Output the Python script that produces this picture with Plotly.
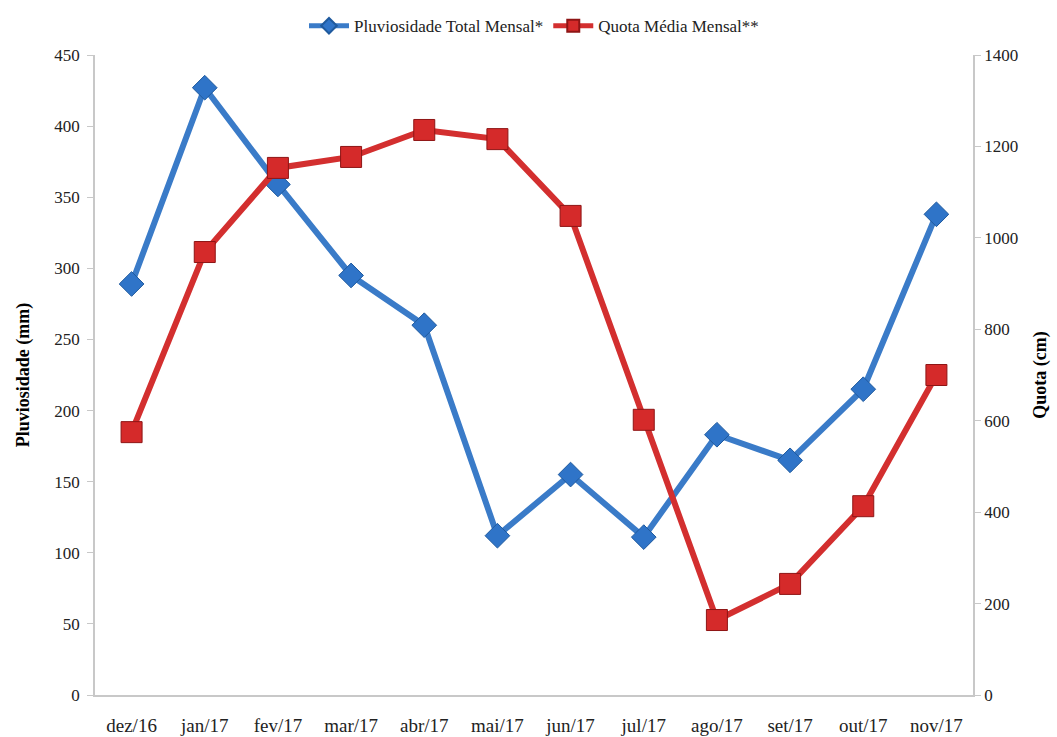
import plotly.graph_objects as go

months = ["dez/16", "jan/17", "fev/17", "mar/17", "abr/17", "mai/17",
          "jun/17", "jul/17", "ago/17", "set/17", "out/17", "nov/17"]
pluviosidade_mm = [289, 427, 359, 295, 260, 112, 155, 111, 183, 165, 215, 338]
quota_cm = [575, 969, 1153, 1177, 1236, 1216, 1048, 602, 164, 243, 413, 700]

BLUE = "#3A7BC8"
RED = "#D32F2F"
FONT = "Liberation Serif"

fig = go.Figure()
fig.add_trace(go.Scatter(
    x=months, y=pluviosidade_mm, name="Pluviosidade Total Mensal*",
    mode="lines+markers",
    line=dict(color=BLUE, width=6),
    marker=dict(symbol="diamond", size=19, color="#2F74C8",
                line=dict(color="#1F5A9E", width=1)),
    yaxis="y",
))
fig.add_trace(go.Scatter(
    x=months, y=quota_cm, name="Quota Média Mensal**",
    mode="lines+markers",
    line=dict(color=RED, width=6),
    marker=dict(symbol="square", size=21, color="#D52A2A",
                line=dict(color="#8E1515", width=1)),
    yaxis="y2",
))

fig.update_layout(
    width=1057, height=737,
    margin=dict(l=95, r=84, t=55, b=42, autoexpand=False),
    paper_bgcolor="white", plot_bgcolor="white",
    font=dict(family=FONT, size=17, color="#222"),
    showlegend=True,
    legend=dict(orientation="h", x=0.5, xanchor="center", y=1.045, yanchor="middle",
                font=dict(family=FONT, size=17, color="#222"),
                itemwidth=40, itemsizing="constant", traceorder="normal"),
    xaxis=dict(
        type="category", range=[-0.5, 11.5],
        showline=True, linecolor="#C8C8C8", linewidth=1.5,
        showgrid=False, ticks="", ticklabelstandoff=12,
        tickfont=dict(family=FONT, size=19, color="#222"),
        zeroline=False, mirror=False,
    ),
    yaxis=dict(
        range=[0, 450], dtick=50,
        showline=True, linecolor="#C8C8C8", linewidth=1.5,
        showgrid=False, zeroline=False,
        ticks="outside", ticklen=6, tickcolor="#C8C8C8",
        ticklabelstandoff=4,
        tickfont=dict(family=FONT, size=17, color="#222"),
        title=dict(text="<b>Pluviosidade (mm)</b>", standoff=20,
                   font=dict(family=FONT, size=18, color="#000")),
    ),
    yaxis2=dict(
        range=[0, 1400], dtick=200, overlaying="y", side="right",
        showline=True, linecolor="#C8C8C8", linewidth=1.5,
        showgrid=False, zeroline=False,
        ticks="outside", ticklen=6, tickcolor="#C8C8C8",
        tickfont=dict(family=FONT, size=17, color="#222"),
        title=dict(text="<b>Quota (cm)</b>", standoff=16,
                   font=dict(family=FONT, size=18, color="#000")),
    ),
)

fig.write_html("out.html")
